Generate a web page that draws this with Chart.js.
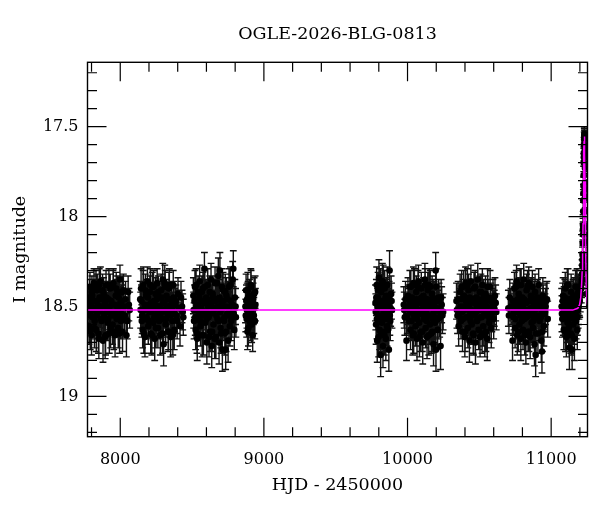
<!DOCTYPE html>
<html>
<head>
<meta charset="utf-8">
<script src="https://cdn.jsdelivr.net/npm/chart.js@4.4.1/dist/chart.umd.min.js"></script>
<style>
  html, body { margin: 0; padding: 0; background: #fff; }
  #wrap { width: 600px; height: 512px; position: relative; }
</style>
</head>
<body>
<div id="wrap"><canvas id="curvaLuz"></canvas></div>
<script>
// [HJD-2450000, I mag, error] por temporada
const season1 = [
  [7778,18.48,0.09],[7783,18.61,0.10],[7789,18.39,0.08],[7794,18.55,0.09],[7800,18.66,0.11],[7805,18.44,0.09],[7811,18.52,0.10],[7817,18.37,0.08],[7822,18.58,0.10],[7828,18.47,0.09],
  [7833,18.63,0.12],[7840,18.41,0.09],[7845,18.53,0.10],[7851,18.68,0.11],[7856,18.45,0.09],[7862,18.36,0.08],[7867,18.57,0.10],[7873,18.50,0.09],[7880,18.69,0.12],[7884,18.43,0.09],
  [7890,18.56,0.10],[7895,18.67,0.12],[7901,18.38,0.08],[7908,18.51,0.09],[7913,18.59,0.10],[7918,18.46,0.09],[7924,18.65,0.11],[7930,18.40,0.08],[7935,18.54,0.10],[7941,18.49,0.09],
  [7947,18.60,0.11],[7952,18.37,0.08],[7958,18.53,0.09],[7964,18.66,0.12],[7969,18.44,0.09],[7975,18.57,0.10],[7981,18.42,0.09],[7986,18.62,0.11],[7992,18.50,0.10],[7998,18.35,0.08],
  [8004,18.58,0.10],[8010,18.47,0.09],[8016,18.64,0.11],[8022,18.41,0.09],[8031,18.55,0.10],[8043,18.66,0.12],[8055,18.42,0.09],[8066,18.52,0.10],
  [7781,18.53,0.09],[7786,18.45,0.10],[7791,18.64,0.10],[7798,18.50,0.09],[7803,18.42,0.09],[7808,18.56,0.10],[7814,18.47,0.09],[7820,18.62,0.11],[7825,18.51,0.10],[7831,18.39,0.09],
  [7836,18.55,0.10],[7843,18.49,0.09],[7848,18.65,0.11],[7854,18.38,0.09],[7859,18.52,0.10],[7865,18.46,0.09],[7870,18.58,0.10],[7877,18.41,0.09],[7887,18.54,0.10],[7893,18.48,0.09],
  [7898,18.66,0.11],[7904,18.45,0.09],[7911,18.53,0.10],[7916,18.57,0.10],[7921,18.38,0.09],[7927,18.50,0.09],[7933,18.62,0.11],[7938,18.47,0.09],[7944,18.55,0.10],[7950,18.39,0.09],
  [7955,18.64,0.10],[7961,18.49,0.09],[7967,18.53,0.10],[7972,18.40,0.09],[7978,18.56,0.10],[7984,18.51,0.09],[7989,18.45,0.09],[7995,18.65,0.11],[8001,18.48,0.09],[8007,18.54,0.10],
  [8013,18.42,0.09],[8019,18.57,0.10],[8026,18.50,0.09],[8037,18.46,0.10],[8049,18.58,0.10],[8060,18.49,0.09]
];
const season2 = [
  [8139,18.46,0.10],[8145,18.40,0.11],[8150,18.58,0.09],[8156,18.63,0.10],[8161,18.38,0.10],[8167,18.52,0.09],[8172,18.67,0.11],[8178,18.44,0.09],[8183,18.56,0.10],[8189,18.36,0.08],
  [8195,18.61,0.10],[8200,18.49,0.09],[8206,18.42,0.09],[8212,18.65,0.11],[8217,18.53,0.10],[8223,18.39,0.08],[8229,18.59,0.10],[8234,18.47,0.09],[8240,18.68,0.12],[8246,18.43,0.09],
  [8251,18.55,0.10],[8257,18.37,0.08],[8262,18.62,0.11],[8268,18.50,0.09],[8274,18.45,0.09],[8279,18.66,0.11],[8285,18.41,0.09],[8291,18.57,0.10],[8296,18.35,0.09],[8302,18.71,0.12],
  [8307,18.48,0.09],[8310,18.37,0.10],[8316,18.60,0.10],[8322,18.44,0.09],[8328,18.54,0.10],[8333,18.64,0.11],[8339,18.40,0.09],[8345,18.51,0.09],[8351,18.67,0.11],[8357,18.46,0.10],
  [8363,18.58,0.10],[8369,18.38,0.08],[8376,18.63,0.11],[8383,18.49,0.09],[8391,18.55,0.10],[8402,18.43,0.09],[8416,18.61,0.11],[8430,18.50,0.09],[8439,18.56,0.10],
  [8142,18.52,0.10],[8148,18.47,0.09],[8153,18.55,0.10],[8159,18.39,0.09],[8164,18.65,0.11],[8170,18.49,0.09],[8175,18.41,0.09],[8181,18.57,0.10],[8186,18.50,0.09],[8192,18.45,0.09],
  [8198,18.58,0.10],[8203,18.53,0.10],[8209,18.38,0.09],[8214,18.48,0.09],[8220,18.66,0.11],[8226,18.51,0.10],[8232,18.39,0.09],[8237,18.56,0.10],[8243,18.49,0.09],[8249,18.62,0.11],
  [8254,18.46,0.09],[8260,18.53,0.10],[8265,18.42,0.09],[8271,18.58,0.10],[8277,18.50,0.09],[8282,18.54,0.10],[8288,18.45,0.09],[8294,18.65,0.11],[8299,18.48,0.09],[8305,18.52,0.10],
  [8313,18.39,0.09],[8319,18.57,0.10],[8325,18.50,0.09],[8331,18.46,0.09],[8336,18.64,0.10],[8342,18.38,0.09],[8348,18.55,0.10],[8354,18.49,0.09],[8360,18.52,0.10],[8366,18.66,0.11],
  [8372,18.45,0.09],[8379,18.54,0.10],[8387,18.47,0.09],[8396,18.58,0.10],[8409,18.51,0.10],[8423,18.45,0.09],[8435,18.53,0.10]
];
const season3 = [
  [8509,18.44,0.10],[8514,18.58,0.10],[8520,18.39,0.09],[8525,18.63,0.11],[8531,18.50,0.09],[8536,18.68,0.12],[8542,18.42,0.09],[8548,18.55,0.10],[8553,18.36,0.09],[8559,18.61,0.11],
  [8565,18.47,0.09],[8570,18.66,0.12],[8576,18.40,0.09],[8581,18.53,0.10],[8586,18.29,0.09],[8592,18.59,0.10],[8598,18.45,0.10],[8603,18.70,0.12],[8609,18.38,0.09],[8615,18.56,0.10],
  [8620,18.49,0.10],[8626,18.64,0.11],[8632,18.35,0.09],[8637,18.72,0.12],[8643,18.43,0.10],[8649,18.60,0.11],[8654,18.51,0.10],[8660,18.37,0.09],[8666,18.67,0.12],[8671,18.46,0.10],
  [8677,18.57,0.11],[8683,18.33,0.10],[8688,18.70,0.12],[8694,18.30,0.10],[8699,18.62,0.11],[8705,18.48,0.10],[8711,18.74,0.12],[8716,18.41,0.10],[8722,18.58,0.11],[8728,18.65,0.12],
  [8734,18.74,0.11],[8739,18.44,0.10],[8745,18.54,0.10],[8751,18.69,0.12],[8757,18.39,0.10],[8763,18.61,0.11],[8770,18.47,0.10],[8777,18.56,0.11],[8783,18.35,0.10],[8787,18.29,0.10],
  [8794,18.63,0.11],[8803,18.50,0.10],
  [8511,18.52,0.10],[8517,18.47,0.09],[8522,18.56,0.10],[8528,18.38,0.09],[8534,18.65,0.11],[8539,18.49,0.10],[8545,18.53,0.10],[8551,18.45,0.09],[8556,18.58,0.10],[8562,18.51,0.10],
  [8568,18.42,0.09],[8573,18.55,0.10],[8579,18.66,0.11],[8584,18.48,0.10],[8589,18.39,0.09],[8595,18.53,0.10],[8601,18.57,0.11],[8606,18.46,0.10],[8612,18.50,0.10],[8618,18.67,0.11],
  [8623,18.42,0.09],[8629,18.54,0.10],[8635,18.48,0.10],[8640,18.64,0.11],[8646,18.45,0.10],[8652,18.52,0.10],[8657,18.68,0.11],[8663,18.47,0.10],[8669,18.55,0.10],[8674,18.37,0.09],
  [8680,18.50,0.10],[8686,18.58,0.11],[8691,18.45,0.10],[8697,18.53,0.10],[8702,18.65,0.11],[8708,18.39,0.10],[8713,18.51,0.10],[8719,18.47,0.10],[8725,18.56,0.11],[8731,18.42,0.10],
  [8737,18.64,0.11],[8742,18.50,0.10],[8748,18.46,0.10],[8754,18.55,0.10],[8760,18.52,0.10],[8767,18.38,0.10],[8773,18.58,0.11],[8780,18.49,0.10],[8790,18.54,0.10],[8798,18.45,0.10],
  [8805,18.56,0.11]
];
const season4 = [
  [8872,18.50,0.09],[8876,18.41,0.09],[8880,18.57,0.10],[8884,18.46,0.09],[8888,18.41,0.10],[8892,18.62,0.10],[8896,18.53,0.09],[8900,18.44,0.09],[8905,18.59,0.10],
  [8909,18.38,0.09],[8913,18.55,0.10],[8917,18.48,0.09],[8922,18.66,0.09],[8927,18.51,0.09],[8932,18.43,0.09],[8937,18.58,0.10],[8941,18.49,0.09],
  [8874,18.55,0.09],[8878,18.47,0.09],[8882,18.52,0.10],[8886,18.64,0.10],[8890,18.45,0.09],[8894,18.50,0.09],[8898,18.56,0.10],[8902,18.48,0.09],
  [8907,18.53,0.10],[8911,18.39,0.09],[8915,18.60,0.10],[8920,18.51,0.09],[8925,18.46,0.09],[8930,18.55,0.10],[8935,18.50,0.09],[8939,18.42,0.09]
];
const season5 = [
  [9777,18.48,0.10],[9781,18.60,0.11],[9785,18.38,0.10],[9789,18.69,0.12],[9793,18.45,0.10],[9797,18.56,0.11],[9801,18.34,0.10],[9805,18.63,0.11],[9809,18.51,0.10],[9813,18.77,0.12],
  [9817,18.42,0.10],[9821,18.59,0.11],[9825,18.36,0.10],[9829,18.72,0.12],[9833,18.49,0.10],[9837,18.64,0.11],[9841,18.40,0.10],[9845,18.55,0.11],[9849,18.68,0.12],[9853,18.44,0.10],
  [9857,18.61,0.11],[9861,18.47,0.10],[9866,18.53,0.10],[9870,18.74,0.12],[9875,18.30,0.11],[9880,18.58,0.11],[9886,18.43,0.10],[9892,18.52,0.10],
  [9779,18.53,0.10],[9783,18.45,0.10],[9787,18.57,0.11],[9791,18.50,0.10],[9795,18.41,0.10],[9799,18.67,0.11],[9803,18.48,0.10],[9807,18.55,0.11],[9811,18.39,0.10],[9815,18.64,0.11],
  [9819,18.51,0.10],[9823,18.47,0.10],[9827,18.56,0.11],[9831,18.37,0.10],[9835,18.54,0.10],[9839,18.66,0.11],[9843,18.49,0.10],[9847,18.45,0.10],[9851,18.57,0.11],[9855,18.52,0.10],
  [9859,18.38,0.10],[9863,18.63,0.11],[9868,18.50,0.10],[9872,18.46,0.10],[9877,18.55,0.11],[9883,18.51,0.10],[9889,18.47,0.10]
];
const season6 = [
  [9974,18.49,0.10],[9981,18.56,0.10],[9993,18.69,0.11],[10003,18.44,0.10],[10010,18.58,0.10],[10016,18.39,0.09],[10021,18.63,0.11],[10026,18.50,0.10],[10031,18.45,0.09],[10036,18.66,0.11],
  [10041,18.37,0.09],[10046,18.55,0.10],[10051,18.47,0.10],[10056,18.61,0.11],[10061,18.42,0.09],[10066,18.68,0.12],[10071,18.52,0.10],[10076,18.36,0.09],[10081,18.59,0.10],[10086,18.46,0.10],
  [10091,18.64,0.11],[10096,18.40,0.09],[10101,18.53,0.10],[10106,18.70,0.12],[10111,18.44,0.10],[10116,18.57,0.10],[10121,18.35,0.09],[10126,18.62,0.11],[10131,18.49,0.10],[10136,18.67,0.12],
  [10141,18.41,0.10],[10146,18.55,0.10],[10151,18.38,0.09],[10156,18.60,0.11],[10161,18.48,0.10],[10166,18.65,0.11],[10171,18.43,0.10],[10176,18.57,0.11],[10181,18.71,0.12],[10186,18.46,0.10],
  [10191,18.59,0.11],[10196,18.30,0.10],[10198,18.74,0.12],[10203,18.52,0.10],[10210,18.63,0.11],[10217,18.45,0.10],[10224,18.56,0.11],[10230,18.72,0.13],[10238,18.49,0.10],[10248,18.53,0.10],
  [9977,18.52,0.10],[9986,18.46,0.10],[9998,18.55,0.10],[10006,18.50,0.10],[10013,18.47,0.09],[10018,18.53,0.10],[10023,18.39,0.09],[10028,18.58,0.11],[10033,18.52,0.10],[10038,18.48,0.10],
  [10043,18.65,0.11],[10048,18.38,0.09],[10053,18.55,0.10],[10058,18.50,0.10],[10063,18.46,0.10],[10068,18.57,0.11],[10073,18.39,0.09],[10078,18.52,0.10],[10083,18.67,0.11],[10088,18.48,0.10],
  [10093,18.54,0.10],[10098,18.45,0.09],[10103,18.64,0.11],[10108,18.51,0.10],[10113,18.47,0.10],[10118,18.56,0.10],[10123,18.38,0.09],[10128,18.53,0.10],[10133,18.58,0.11],[10138,18.46,0.10],
  [10143,18.51,0.10],[10148,18.66,0.11],[10153,18.49,0.10],[10158,18.39,0.09],[10163,18.55,0.10],[10168,18.50,0.10],[10173,18.64,0.11],[10178,18.45,0.10],[10183,18.53,0.10],[10188,18.48,0.10],
  [10193,18.56,0.11],[10200,18.39,0.10],[10207,18.51,0.10],[10213,18.57,0.11],[10220,18.47,0.10],[10227,18.53,0.10],[10234,18.45,0.10],[10243,18.55,0.10]
];
const season7 = [
  [10341,18.47,0.10],[10348,18.55,0.10],[10356,18.61,0.11],[10366,18.42,0.10],[10372,18.58,0.10],[10377,18.39,0.09],[10383,18.64,0.11],[10388,18.50,0.10],[10393,18.44,0.09],[10399,18.67,0.11],
  [10404,18.37,0.09],[10409,18.56,0.10],[10415,18.48,0.10],[10420,18.62,0.11],[10425,18.41,0.09],[10431,18.69,0.12],[10436,18.53,0.10],[10441,18.36,0.09],[10447,18.60,0.11],[10452,18.46,0.10],
  [10457,18.65,0.11],[10463,18.40,0.09],[10468,18.54,0.10],[10473,18.70,0.12],[10479,18.45,0.10],[10484,18.58,0.10],[10489,18.35,0.09],[10495,18.63,0.11],[10500,18.49,0.10],[10505,18.67,0.11],
  [10511,18.42,0.10],[10516,18.56,0.10],[10521,18.38,0.09],[10527,18.61,0.11],[10532,18.47,0.10],[10538,18.66,0.12],[10543,18.43,0.10],[10549,18.55,0.10],[10555,18.68,0.12],[10561,18.45,0.10],
  [10568,18.59,0.11],[10575,18.39,0.09],[10583,18.62,0.11],[10591,18.50,0.10],[10600,18.57,0.11],[10609,18.44,0.10],[10618,18.53,0.10],
  [10344,18.52,0.10],[10352,18.46,0.10],[10360,18.55,0.10],[10369,18.50,0.10],[10374,18.46,0.09],[10380,18.53,0.10],[10385,18.57,0.11],[10391,18.39,0.09],[10396,18.52,0.10],[10401,18.64,0.11],
  [10407,18.47,0.10],[10412,18.51,0.10],[10417,18.38,0.09],[10422,18.56,0.10],[10428,18.50,0.10],[10433,18.45,0.09],[10439,18.58,0.11],[10444,18.52,0.10],[10449,18.47,0.10],[10455,18.55,0.10],
  [10460,18.66,0.11],[10465,18.48,0.10],[10471,18.39,0.09],[10476,18.53,0.10],[10481,18.50,0.10],[10487,18.57,0.11],[10492,18.46,0.10],[10497,18.52,0.10],[10503,18.42,0.09],[10508,18.56,0.10],
  [10513,18.49,0.10],[10519,18.65,0.11],[10524,18.51,0.10],[10530,18.45,0.10],[10535,18.54,0.10],[10540,18.48,0.10],[10546,18.64,0.11],[10552,18.50,0.10],[10558,18.39,0.10],[10564,18.53,0.10],
  [10571,18.57,0.11],[10579,18.47,0.10],[10587,18.54,0.10],[10595,18.45,0.10],[10604,18.51,0.10],[10614,18.48,0.10]
];
const season8 = [
  [10702,18.51,0.10],[10712,18.45,0.10],[10731,18.69,0.11],[10738,18.56,0.10],[10744,18.40,0.09],[10749,18.62,0.11],[10754,18.48,0.10],[10759,18.36,0.09],[10764,18.66,0.11],[10769,18.53,0.10],
  [10774,18.43,0.09],[10779,18.60,0.11],[10784,18.38,0.09],[10789,18.68,0.12],[10794,18.50,0.10],[10799,18.45,0.10],[10804,18.63,0.11],[10809,18.35,0.09],[10814,18.57,0.10],[10819,18.47,0.10],
  [10824,18.70,0.12],[10829,18.41,0.09],[10834,18.55,0.10],[10839,18.64,0.11],[10844,18.37,0.09],[10849,18.52,0.10],[10854,18.67,0.12],[10859,18.44,0.10],[10864,18.59,0.11],[10869,18.39,0.09],
  [10874,18.62,0.11],[10879,18.49,0.10],[10884,18.71,0.12],[10888,18.42,0.10],[10892,18.77,0.12],[10897,18.56,0.10],[10902,18.46,0.10],[10908,18.65,0.11],[10913,18.38,0.09],[10919,18.58,0.11],
  [10925,18.50,0.10],[10931,18.69,0.12],[10936,18.75,0.12],[10942,18.44,0.10],[10949,18.61,0.11],[10957,18.53,0.10],[10966,18.47,0.10],[10976,18.57,0.10],
  [10706,18.55,0.10],[10720,18.50,0.10],[10735,18.47,0.10],[10741,18.53,0.10],[10746,18.49,0.10],[10751,18.57,0.11],[10756,18.39,0.09],[10761,18.52,0.10],[10766,18.46,0.10],[10771,18.64,0.11],
  [10776,18.51,0.10],[10781,18.47,0.10],[10786,18.55,0.10],[10791,18.38,0.09],[10796,18.58,0.11],[10801,18.50,0.10],[10806,18.54,0.10],[10811,18.46,0.10],[10816,18.66,0.11],[10821,18.52,0.10],
  [10826,18.48,0.10],[10831,18.56,0.10],[10836,18.39,0.09],[10841,18.53,0.10],[10846,18.64,0.11],[10851,18.47,0.10],[10856,18.51,0.10],[10861,18.55,0.10],[10866,18.45,0.10],[10871,18.53,0.10],
  [10876,18.58,0.11],[10881,18.46,0.10],[10886,18.52,0.10],[10890,18.49,0.10],[10895,18.65,0.11],[10900,18.51,0.10],[10905,18.45,0.10],[10910,18.55,0.10],[10916,18.50,0.10],[10922,18.47,0.10],
  [10928,18.56,0.11],[10934,18.52,0.10],[10939,18.64,0.11],[10945,18.48,0.10],[10953,18.54,0.10],[10961,18.50,0.10],[10971,18.46,0.10]
];
const season9 = [
  [11073,18.50,0.10],[11078,18.57,0.10],[11083,18.44,0.10],[11088,18.63,0.11],[11093,18.52,0.10],[11098,18.40,0.09],[11102,18.56,0.10],[11106,18.67,0.11],[11110,18.46,0.10],[11114,18.59,0.11],
  [11118,18.38,0.09],[11122,18.62,0.11],[11127,18.73,0.12],[11131,18.49,0.10],[11135,18.55,0.10],[11139,18.42,0.10],[11143,18.66,0.11],[11146,18.74,0.11],[11150,18.51,0.10],[11154,18.60,0.11],
  [11158,18.44,0.10],[11162,18.68,0.12],[11166,18.53,0.10],[11170,18.39,0.09],[11174,18.58,0.10],[11178,18.47,0.10],[11182,18.63,0.11],[11185,18.43,0.10],[11188,18.52,0.10],[11191,18.41,0.09],
  [11194,18.48,0.09],
  [11075,18.54,0.10],[11080,18.47,0.10],[11085,18.56,0.10],[11090,18.49,0.10],[11095,18.45,0.10],[11100,18.64,0.11],[11104,18.51,0.10],[11108,18.55,0.10],[11112,18.38,0.09],[11116,18.52,0.10],
  [11120,18.49,0.10],[11124,18.57,0.11],[11129,18.54,0.10],[11133,18.46,0.10],[11137,18.65,0.11],[11141,18.51,0.10],[11145,18.48,0.10],[11148,18.56,0.10],[11152,18.45,0.10],[11156,18.53,0.10],
  [11160,18.50,0.10],[11164,18.58,0.11],[11168,18.47,0.10],[11172,18.55,0.10],[11176,18.51,0.10],[11180,18.39,0.10],[11183,18.56,0.10],[11187,18.44,0.10],[11190,18.50,0.10],[11193,18.42,0.09],
  [11196,18.46,0.09]
];
// subida del evento de microlente
const peakPoints = [
  [11199,18.47,0.09],[11203,18.44,0.09],[11207,18.43,0.08],[11210,18.40,0.08],[11212,18.37,0.08],[11213,18.35,0.08],[11215,18.32,0.08],[11217,18.27,0.07],[11218,18.24,0.07],[11219,18.21,0.07],
  [11220,18.15,0.07],[11221,18.10,0.06],[11221.5,18.07,0.06],[11222,18.05,0.06],[11223,17.97,0.06],[11224,17.91,0.06],[11224.5,17.87,0.05],[11225,17.83,0.05],[11226,17.77,0.05],[11227,17.70,0.05],
  [11227.5,17.67,0.05],[11228,17.65,0.04],[11229,17.60,0.04],[11230,17.57,0.04],[11230.5,17.55,0.04],[11231,17.54,0.04],[11232,17.56,0.04],[11233,17.61,0.04],[11233.5,17.64,0.04],[11234,17.67,0.04],
  [11235,17.73,0.05],[11236,17.81,0.05],[11236.5,17.85,0.05],[11237,17.89,0.06],[11238,17.97,0.06],[11239,18.06,0.06],[11239.5,18.10,0.06],[11240,18.14,0.07],[11242,18.24,0.07],[11243,18.30,0.08],
  [11244,18.35,0.08],[11247,18.43,0.08]
];
// modelo ajustado [HJD, mag]
const modelCurve = [
  [7772,18.52],[11150,18.52],[11185,18.51],[11198,18.49],[11206,18.45],[11212,18.38],[11216,18.30],[11219,18.20],[11222,18.04],[11224,17.90],[11226,17.76],
  [11228,17.64],[11229.5,17.58],[11231,17.555],[11232.5,17.58],[11234,17.66],[11236,17.80],[11238,17.98],[11240,18.14],[11243,18.32],[11247,18.44],[11253,18.49]
];

const xMajorTicks = [8000, 9000, 10000, 11000];
const xMinorTicks = [7800, 8200, 8400, 8600, 8800, 9200, 9400, 9600, 9800, 10200, 10400, 10600, 10800, 11200];
const yMajorTicks = [17.5, 18, 18.5, 19];
const yMinorTicks = [17.2, 17.3, 17.4, 17.6, 17.7, 17.8, 17.9, 18.1, 18.2, 18.3, 18.4, 18.6, 18.7, 18.8, 18.9, 19.1, 19.2];

const FUENTE = 'DejaVu Serif';

const puntos = [season1, season2, season3, season4, season5, season6, season7, season8, season9, peakPoints]
  .flat()
  .map(([t, m, e]) => ({ x: t, y: m, e }));

// Barras de error debajo de los puntos
const pluginBarrasError = {
  id: 'barrasError',
  beforeDatasetsDraw(chart) {
    const { ctx, chartArea, scales: { x, y } } = chart;
    ctx.save();
    ctx.beginPath();
    ctx.rect(chartArea.left, chartArea.top, chartArea.right - chartArea.left, chartArea.bottom - chartArea.top);
    ctx.clip();
    ctx.strokeStyle = '#111';
    ctx.lineWidth = 1.4;
    ctx.beginPath();
    puntos.forEach(p => {
      const px = x.getPixelForValue(p.x);
      const yTop = y.getPixelForValue(p.y - p.e);
      const yBot = y.getPixelForValue(p.y + p.e);
      ctx.moveTo(px, yTop); ctx.lineTo(px, yBot);
      ctx.moveTo(px - 3.4, yTop); ctx.lineTo(px + 3.4, yTop);
      ctx.moveTo(px - 3.4, yBot); ctx.lineTo(px + 3.4, yBot);
    });
    ctx.stroke();
    ctx.restore();
  }
};

// Marco y ticks hacia adentro en los cuatro lados
const pluginMarco = {
  id: 'marco',
  afterDatasetsDraw(chart) {
    const { ctx, chartArea: { left, right, top, bottom }, scales: { x, y } } = chart;
    ctx.save();
    ctx.strokeStyle = '#000';
    ctx.lineWidth = 1.2;
    ctx.beginPath();
    const marcaX = (v, len) => {
      const px = x.getPixelForValue(v);
      ctx.moveTo(px, bottom); ctx.lineTo(px, bottom - len);
      ctx.moveTo(px, top); ctx.lineTo(px, top + len);
    };
    const marcaY = (v, len) => {
      const py = y.getPixelForValue(v);
      ctx.moveTo(left, py); ctx.lineTo(left + len, py);
      ctx.moveTo(right, py); ctx.lineTo(right - len, py);
    };
    xMajorTicks.forEach(v => marcaX(v, 19));
    xMinorTicks.forEach(v => marcaX(v, 9.5));
    yMajorTicks.forEach(v => marcaY(v, 19));
    yMinorTicks.forEach(v => marcaY(v, 9.5));
    ctx.stroke();
    ctx.lineWidth = 1.4;
    ctx.strokeRect(left, top, right - left, bottom - top);
    ctx.restore();
  }
};

const ctx = document.getElementById('curvaLuz').getContext('2d');
new Chart(ctx, {
  type: 'scatter',
  data: {
    datasets: [
      {
        type: 'line',
        label: 'modelo',
        data: modelCurve.map(([t, m]) => ({ x: t, y: m })),
        borderColor: '#ff00ff',
        borderWidth: 1.5,
        pointRadius: 0,
        fill: false,
        tension: 0,
        order: 0
      },
      {
        label: 'OGLE I',
        data: puntos,
        backgroundColor: '#000',
        borderColor: '#000',
        borderWidth: 0,
        pointRadius: 3.3,
        order: 1
      }
    ]
  },
  options: {
    animation: false,
    responsive: true,
    maintainAspectRatio: false,
    layout: { padding: { left: 0, right: 12.5, top: 0, bottom: 0 } },
    plugins: {
      legend: { display: false },
      tooltip: { enabled: false },
      title: {
        display: true,
        text: 'OGLE-2026-BLG-0813',
        fullSize: false,
        color: '#000',
        font: { family: FUENTE, size: 17.5, weight: 'normal' },
        padding: { top: 24, bottom: 17.3 }
      }
    },
    scales: {
      x: {
        type: 'linear',
        min: 7772,
        max: 11253,
        grid: { display: false, drawTicks: false },
        border: { display: false },
        afterBuildTicks: s => { s.ticks = xMajorTicks.map(v => ({ value: v })); },
        afterFit: s => { s.height = 75.3; },
        ticks: {
          color: '#000',
          font: { family: FUENTE, size: 16 },
          padding: 14,
          maxRotation: 0,
          autoSkip: false,
          callback: v => String(v)
        },
        title: {
          display: true,
          text: 'HJD - 2450000',
          color: '#000',
          font: { family: FUENTE, size: 17.5 },
          padding: { top: 0, bottom: 16 }
        }
      },
      y: {
        type: 'linear',
        reverse: true,
        min: 17.142,
        max: 19.224,
        grid: { display: false, drawTicks: false },
        border: { display: false },
        afterBuildTicks: s => { s.ticks = yMajorTicks.map(v => ({ value: v })); },
        afterFit: s => { s.width = 87.5; },
        ticks: {
          color: '#000',
          font: { family: FUENTE, size: 16 },
          padding: 9,
          autoSkip: false,
          callback: v => String(v)
        },
        title: {
          display: true,
          text: 'I magnitude',
          color: '#000',
          font: { family: FUENTE, size: 17.5 },
          padding: { top: 9.6, bottom: 0 }
        }
      }
    }
  },
  plugins: [pluginBarrasError, pluginMarco]
});
</script>
</body>
</html>
